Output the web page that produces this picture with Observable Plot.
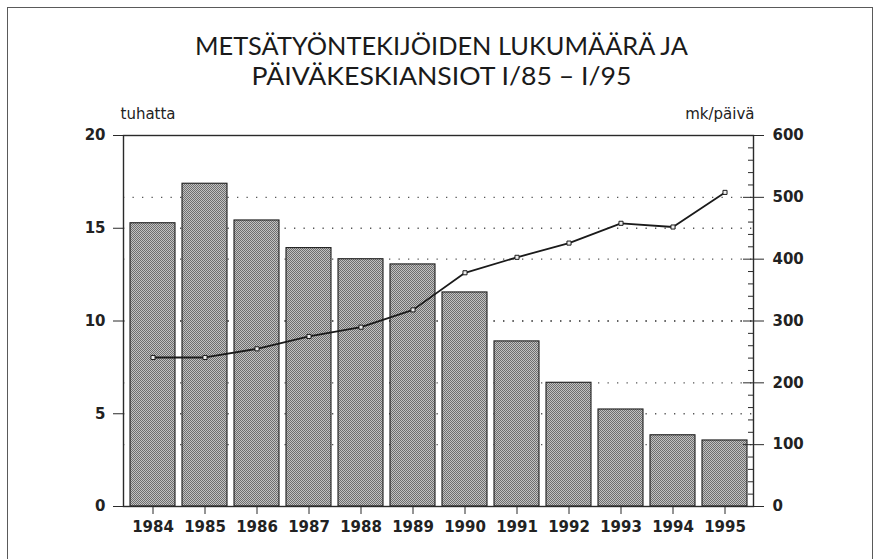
<!DOCTYPE html>
<html><head><meta charset="utf-8">
<script src="https://cdn.jsdelivr.net/npm/d3@7"></script>
<script src="https://cdn.jsdelivr.net/npm/@observablehq/plot@0.6"></script>
<style>
body{margin:0;background:#fff}
#wrap{position:relative;width:878px;height:559px;overflow:hidden;background:#fff}
#border{position:absolute;left:7px;top:7px;width:866px;height:600px;border:1.5px solid #5a5a5a;box-sizing:border-box}
#wrap svg{position:absolute;left:0;top:0}
</style></head><body><div id="wrap"><div id="border"></div></div>
<script>
const titleLines = ["METSÄTYÖNTEKIJÖIDEN LUKUMÄÄRÄ JA", "PÄIVÄKESKIANSIOT I/85 – I/95"];
const leftLabel = "tuhatta";
const rightLabel = "mk/päivä";
const years = ["1984","1985","1986","1987","1988","1989","1990","1991","1992","1993","1994","1995"];
const workers = [15.27, 17.40, 15.42, 13.93, 13.33, 13.05, 11.54, 8.90, 6.67, 5.23, 3.84, 3.56];
const wages = [241, 241, 255, 275, 290, 318, 378, 403, 426, 458, 452, 508];
const leftTicks = [0, 5, 10, 15, 20];
const rightTicks = [0, 100, 200, 300, 400, 500, 600];
const rightMinorTicks = [20, 40, 60, 80, 120, 140, 160, 180, 220, 240, 260, 280, 320, 340, 360, 380, 420, 440, 460, 480, 520, 540, 560, 580];
const gridLeft = [5, 10, 15];
const gridRight = [100, 200, 300, 400, 500];
const ratio = 30; // right axis (mk/päivä) units per left axis (tuhatta) unit

const data = years.map((y, i) => ({year: y, workers: workers[i], wage: wages[i]}));

const defs = () => {
  const g = d3.create("svg:defs");
  const p = g.append("pattern").attr("id", "hatch").attr("width", 2).attr("height", 2).attr("patternUnits", "userSpaceOnUse");
  p.append("rect").attr("width", 2).attr("height", 2).attr("fill", "#c2c2c2");
  p.append("rect").attr("width", 1).attr("height", 1).attr("fill", "#6e6e6e");
  p.append("rect").attr("x", 1).attr("y", 1).attr("width", 1).attr("height", 1).attr("fill", "#6e6e6e");
  return g.node();
};

const chart = Plot.plot({
  width: 878,
  height: 559,
  marginTop: 135,
  marginBottom: 53,
  marginLeft: 123,
  marginRight: 125,
  style: {fontFamily: "DejaVu Sans", fontSize: "15px", color: "#222", background: "transparent"},
  x: {type: "band", domain: years, paddingInner: 0.135, paddingOuter: 0.07},
  y: {domain: [0, 20]},
  marks: [
    defs,
    Plot.ruleY(gridLeft, {stroke: "#555", strokeWidth: 1.3, strokeDasharray: "1.3,8.2"}),
    Plot.ruleY(gridRight, {y: d => d / ratio, stroke: "#555", strokeWidth: 1.3, strokeDasharray: "1.3,8.2"}),
    Plot.barY(data, {x: "year", y: "workers", fill: "url(#hatch)", stroke: "#1e1e1e", strokeWidth: 1.1}),
    Plot.line(data, {x: "year", y: d => d.wage / ratio, stroke: "#1a1a1a", strokeWidth: 1.8}),
    Plot.dot(data, {x: "year", y: d => d.wage / ratio, symbol: "square", r: 2.3, fill: "#eee", stroke: "#1a1a1a", strokeWidth: 1}),
    Plot.frame({stroke: "#2a2a2a", strokeWidth: 1.4}),
    Plot.axisY(leftTicks, {anchor: "left", tickSize: 10, tickPadding: 8, label: null, stroke: "#2a2a2a", fontWeight: "bold"}),
    Plot.axisY(rightTicks.map(v => v / ratio), {anchor: "right", tickSize: 10, tickPadding: 9, label: null, tickFormat: d => String(Math.round(d * ratio)), stroke: "#2a2a2a", fontWeight: "bold"}),
    Plot.axisY(rightTicks.map(v => v / ratio), {anchor: "right", tickSize: -11, label: null, tickFormat: () => "", stroke: "#2a2a2a"}),
    Plot.axisY(rightMinorTicks.map(v => v / ratio), {anchor: "right", tickSize: -6, label: null, tickFormat: () => "", stroke: "#2a2a2a"}),
    Plot.axisX({anchor: "bottom", tickSize: 8, tickPadding: 7, label: null, stroke: "#2a2a2a", fontWeight: "bold"}),
    Plot.text([leftLabel], {text: d => d, frameAnchor: "top-left", textAnchor: "start", lineAnchor: "bottom", dx: -3, dy: -17}),
    Plot.text([rightLabel], {text: d => d, frameAnchor: "top-right", textAnchor: "end", lineAnchor: "bottom", dx: 1, dy: -17})
  ]
});
document.getElementById("wrap").appendChild(chart);

// Title
const tsvg = d3.select("#wrap").append("svg").attr("width", 878).attr("height", 100).style("pointer-events", "none");
const tlen = [493, 380];
const tbase = [55, 85];
titleLines.forEach((t, i) => {
  tsvg.append("text").attr("x", 441.5).attr("y", tbase[i]).attr("text-anchor", "middle")
    .attr("font-family", "Lato").attr("font-size", 25).attr("fill", "#1a1a1a")
    .attr("textLength", tlen[i]).attr("lengthAdjust", "spacingAndGlyphs")
    .text(t);
});
</script></body></html>
